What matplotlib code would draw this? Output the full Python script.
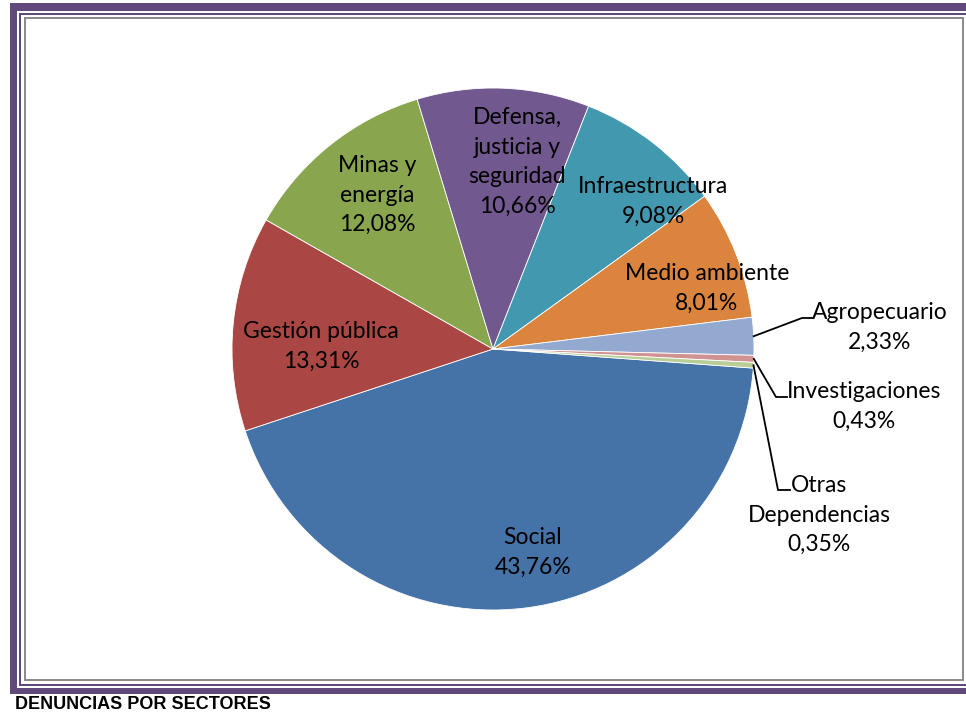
import matplotlib.pyplot as plt
from matplotlib.patches import Rectangle
import numpy as np

W, H = 966, 714

# Sectores y porcentajes de denuncias
sectores = ["Social", "Gestión pública", "Minas y\nenergía", "Defensa,\njusticia y\nseguridad",
            "Infraestructura", "Medio ambiente", "Agropecuario", "Investigaciones",
            "Otras\nDependencias"]
porcentajes = [43.76, 13.31, 12.08, 10.66, 9.08, 8.01, 2.33, 0.43, 0.35]
colores = ["#4572A7", "#AA4643", "#89A54E", "#71588F", "#4198AF",
           "#DB843D", "#93A9CF", "#D19392", "#B9CD96"]

# posiciones de las etiquetas (pixeles, y desde arriba)
pos_etiquetas = [(533, 552), (321, 346), (377, 195), (517, 162), (653, 201),
                 (707, 288), (880, 327), (864, 406), (819, 515)]
# codo de las lineas guia para los sectores pequenos
guias = {6: (802, 318, 812), 7: (776, 397, 787), 8: (778, 490, 790)}

PURPLE = "#5F4A7B"
GRAY = "#8C8C8C"
FONT = "Lato"


def iy(y):
    return H - y


fig = plt.figure(figsize=(W / 100, H / 100), dpi=100)
ax = fig.add_axes([0, 0, 1, 1])

wedges, _ = ax.pie(porcentajes, colors=colores, startangle=-4.2, counterclock=False,
                   radius=261, center=(493, iy(349)),
                   wedgeprops=dict(edgecolor="white", linewidth=0.6))
ax.set_xlim(0, W)
ax.set_ylim(0, H)
ax.set_aspect("equal")
ax.axis("off")

# etiquetas con nombre y porcentaje
for i, (nombre, valor) in enumerate(zip(sectores, porcentajes)):
    texto = nombre + "\n" + f"{valor:.2f}".replace(".", ",") + "%"
    x, y = pos_etiquetas[i]
    ax.text(x, iy(y), texto, ha="center", va="center", fontsize=16.5,
            family=FONT, linespacing=1.52, color="black")

# lineas guia desde el borde del sector
for i, (xc, yc, xe) in guias.items():
    w = wedges[i]
    ang = np.deg2rad((w.theta1 + w.theta2) / 2)
    x0 = w.center[0] + w.r * np.cos(ang)
    y0 = w.center[1] + w.r * np.sin(ang)
    ax.plot([x0, xc, xe], [y0, iy(yc), iy(yc)], color="black", lw=1.3,
            solid_joinstyle="miter")


# marco
def rect(x0, y0, x1, y1, color):
    ax.add_patch(Rectangle((x0, iy(y1)), x1 - x0, y1 - y0, color=color, lw=0, clip_on=False))


rect(10, 3, W, 11, PURPLE)
rect(10, 3, 17, 694, PURPLE)
rect(10, 688, W, 694, PURPLE)
rect(19, 13, W, 15, PURPLE)
rect(19, 13, 21, 686, PURPLE)
rect(19, 684, W, 686, PURPLE)
rect(23.5, 17, 964, 19, GRAY)
rect(23.5, 17, 25.5, 681, GRAY)
rect(23.5, 679, 964, 681, GRAY)
rect(962, 17, 964, 681, GRAY)

ax.text(15, iy(704.5), "DENUNCIAS POR SECTORES", family="Liberation Sans",
        fontweight="bold", fontsize=13, ha="left", va="center")

fig.savefig("out.png", dpi=100, facecolor="white")
